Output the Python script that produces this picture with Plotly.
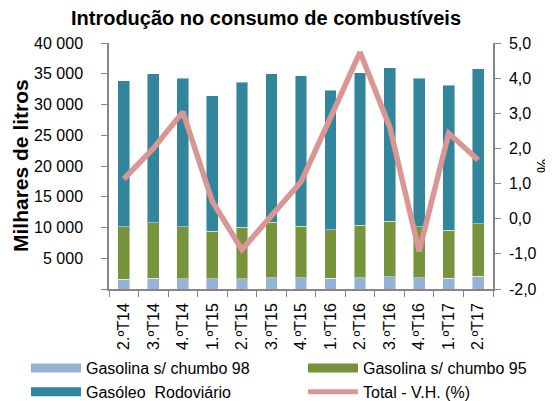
import plotly.graph_objects as go

categories = ["2.ºT14", "3.ºT14", "4.ºT14", "1.ºT15", "2.ºT15", "3.ºT15", "4.ºT15",
              "1.ºT16", "2.ºT16", "3.ºT16", "4.ºT16", "1.ºT17", "2.ºT17"]
gasolina_98 = [1620, 1780, 1670, 1670, 1670, 1830, 1830, 1720, 1830, 2000, 1830, 1720, 2050]
gasolina_95 = [8480, 8970, 8430, 7730, 8380, 9020, 8370, 7880, 8570, 9000, 8320, 7830, 8550]
gasoleo_rodoviario = [23800, 24250, 24200, 22000, 23550, 24150, 24500, 22700, 24800, 25000, 24150, 23550, 25200]
total_vh = [1.13, 2.0, 3.04, 0.49, -0.88, 0.11, 1.05, 2.88, 4.74, 2.62, -0.93, 2.43, 1.67]

series_names = ["Gasolina s/ chumbo 98", "Gasolina s/ chumbo 95", "Gasóleo  Rodoviário", "Total - V.H. (%)"]
series_colors = ["#95B3D7", "#77933C", "#31859C", "#D99694"]

left_ticks = [0, 5000, 10000, 15000, 20000, 25000, 30000, 35000, 40000]
left_labels = ["", "5 000", "10 000", "15 000", "20 000", "25 000", "30 000", "35 000", "40 000"]
right_ticks = [-2, -1, 0, 1, 2, 3, 4, 5]
right_labels = ["-2,0", "-1,0", "0,0", "1,0", "2,0", "3,0", "4,0", "5,0"]

FONT = "Liberation Sans, Arial, sans-serif"
AXC = "#868686"
edge = dict(color="rgba(255,255,255,0.45)", width=1)

# the page body has an 8px default margin, so the figure is 8px smaller
W, H = 545, 393

fig = go.Figure()
for vals, name, col in zip([gasolina_98, gasolina_95, gasoleo_rodoviario], series_names[:3], series_colors[:3]):
    fig.add_trace(go.Bar(x=categories, y=vals, name=name, showlegend=False,
                         marker=dict(color=col, line=edge)))
fig.add_trace(go.Scatter(x=categories, y=total_vh, name=series_names[3], yaxis="y2",
                         mode="lines", showlegend=False,
                         line=dict(color=series_colors[3], width=5.5)))

# legend entries (wide swatches as in the reference)
legend_of = ["legend", "legend2", "legend", "legend2"]
swatch_w = [9, 9, 9, 5]
for name, col, lg, w in zip(series_names, series_colors, legend_of, swatch_w):
    fig.add_trace(go.Scatter(x=[None], y=[None], name=name, mode="lines", legend=lg,
                             line=dict(color=col, width=w), showlegend=True))

leg_common = dict(orientation="v", yref="container", xref="container", yanchor="top",
                  xanchor="left", y=1 - 343 / H, itemwidth=50, font=dict(size=16),
                  bgcolor="rgba(0,0,0,0)", traceorder="normal", tracegroupgap=0)

fig.update_layout(
    width=W, height=H,
    margin=dict(l=101, r=60, t=35, b=112, autoexpand=False),
    paper_bgcolor="white", plot_bgcolor="white",
    font=dict(family=FONT, size=16, color="black"),
    barmode="stack", bargap=0.6,
    showlegend=True,
    title=dict(text="<b>Introdução no consumo de combustíveis</b>", x=258 / W, xref="container",
               xanchor="center", y=1 - 10 / H, yref="container", yanchor="middle",
               font=dict(family=FONT, size=20, color="black")),
    xaxis=dict(type="category", showline=True, linecolor=AXC, linewidth=1.5,
               ticks="outside", tickson="boundaries", ticklen=6, tickcolor=AXC,
               tickangle=-90, tickfont=dict(size=16), showgrid=False, automargin=False,
               ticklabelstandoff=6),
    yaxis=dict(range=[0, 40000], tickvals=left_ticks, ticktext=left_labels,
               showline=True, linecolor=AXC, linewidth=1.5, ticks="outside",
               ticklen=6, tickcolor=AXC, showgrid=False, zeroline=False,
               ticklabelstandoff=15, tickfont=dict(size=16), automargin=False),
    yaxis2=dict(range=[-2, 5], tickvals=right_ticks, ticktext=right_labels,
                overlaying="y", side="right", showline=True, linecolor=AXC, linewidth=1.5,
                ticks="outside", ticklen=6, tickcolor=AXC, showgrid=False, zeroline=False,
                ticklabelstandoff=5, tickfont=dict(size=16), automargin=False),
    legend=dict(x=18 / W, **leg_common),
    legend2=dict(x=295 / W, **leg_common),
    annotations=[
        dict(text="<b>Milhares de litros</b>", textangle=-90, xref="paper", yref="paper",
             x=(20 - 109) / 384, y=0.5, xanchor="center", yanchor="middle",
             showarrow=False, font=dict(size=21, family=FONT)),
        dict(text="%", textangle=-90, xref="paper", yref="paper",
             x=(543 - 109) / 384, y=0.5, xanchor="center", yanchor="middle",
             showarrow=False, font=dict(size=16, family=FONT)),
    ],
)

fig.write_html("out.html")
